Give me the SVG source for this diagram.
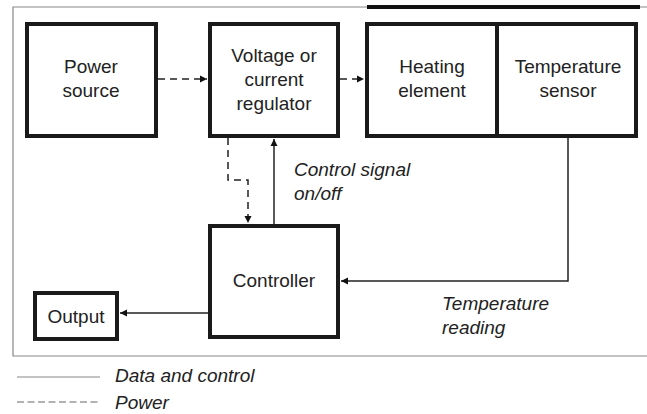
<svg xmlns="http://www.w3.org/2000/svg" width="647" height="414" viewBox="0 0 647 414">
<style>
.box{fill:#fff;stroke:#1a1a1a;stroke-width:4}
.t{font-family:"Liberation Sans",Arial,sans-serif;font-size:19px;fill:#222;text-anchor:middle}
.i{font-family:"Liberation Sans",Arial,sans-serif;font-size:19px;fill:#222;font-style:italic}
.s{fill:none;stroke:#222;stroke-width:1.5}
.d{fill:none;stroke:#222;stroke-width:1.5;stroke-dasharray:7 5}
.frame{fill:none;stroke:#888;stroke-width:1.2}
</style>
<defs>
<marker id="ah" markerWidth="8" markerHeight="8" refX="7" refY="4" orient="auto" markerUnits="userSpaceOnUse">
<path d="M0,0.5 L7,4 L0,7.5 Z" fill="#111"/>
</marker>
</defs>
<rect width="647" height="414" fill="#fff"/>
<g id="frame">
<path class="frame" d="M647,7 H13 V356 H647"/>
<line x1="367" y1="7" x2="640" y2="7" stroke="#111" stroke-width="4"/>
</g>
<g id="connectors">
<line class="d" x1="158" y1="79" x2="207" y2="79" marker-end="url(#ah)"/>
<line class="d" x1="340" y1="79" x2="364" y2="79" marker-end="url(#ah)" stroke-dasharray="6 5"/>
<path class="d" d="M228,138 V180 H248 V223" marker-end="url(#ah)"/>
<line class="s" x1="274" y1="224" x2="274" y2="139" marker-end="url(#ah)"/>
<path class="s" d="M568,138 V281 H341" marker-end="url(#ah)"/>
<line class="s" x1="208" y1="313" x2="120" y2="313" marker-end="url(#ah)"/>
</g>
<g id="power-source">
<rect class="box" x="27" y="24" width="129" height="112"/>
<text class="t" x="91" y="73">Power</text>
<text class="t" x="91" y="97">source</text>
</g>
<g id="regulator">
<rect class="box" x="210" y="24" width="128" height="112"/>
<text class="t" x="274" y="62">Voltage or</text>
<text class="t" x="274" y="86">current</text>
<text class="t" x="274" y="110">regulator</text>
</g>
<g id="heating-element">
<rect class="box" x="367" y="24" width="130" height="112"/>
<text class="t" x="432" y="73">Heating</text>
<text class="t" x="432" y="97">element</text>
</g>
<g id="temperature-sensor">
<rect class="box" x="497" y="24" width="139" height="112"/>
<text class="t" x="568" y="73">Temperature</text>
<text class="t" x="568" y="97">sensor</text>
</g>
<g id="controller">
<rect class="box" x="210" y="226" width="128" height="111"/>
<text class="t" x="274" y="287">Controller</text>
</g>
<g id="output">
<rect class="box" x="35" y="293" width="82" height="46"/>
<text class="t" x="76" y="323">Output</text>
</g>
<g id="labels">
<text class="i" x="294" y="176">Control signal</text>
<text class="i" x="294" y="200">on/off</text>
<text class="i" x="442" y="310">Temperature</text>
<text class="i" x="442" y="334">reading</text>
</g>
<g id="legend">
<line x1="17" y1="377" x2="100" y2="377" stroke="#888" stroke-width="1.2"/>
<text class="i" x="115" y="382">Data and control</text>
<line x1="17" y1="402" x2="99" y2="402" stroke="#666" stroke-width="1.2" stroke-dasharray="7 3.5"/>
<text class="i" x="115" y="409">Power</text>
</g>
</svg>
